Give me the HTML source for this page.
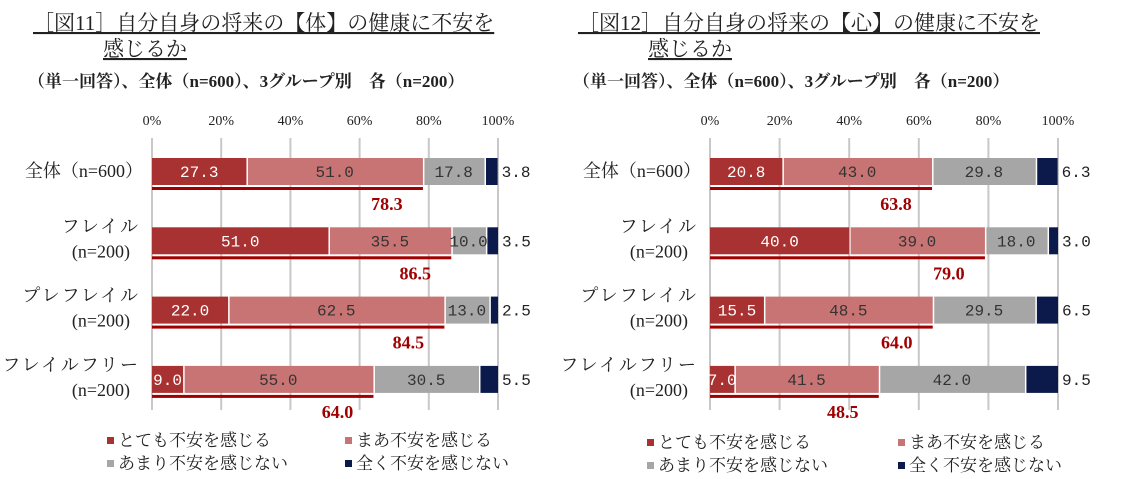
<!DOCTYPE html>
<html><head><meta charset="utf-8">
<style>
body{margin:0;background:#fff;width:1127px;height:479px;overflow:hidden}
svg{display:block}
.t{font-family:"Liberation Serif","Noto Serif CJK JP",serif;fill:#222}
.m{font-family:"Liberation Mono","Noto Sans CJK JP",monospace}
</style></head>
<body>
<svg id="c" width="1127" height="479"></svg>
<script>
const categories=[["全体（n=600）"],["フレイル","(n=200)"],["プレフレイル","(n=200)"],["フレイルフリー","(n=200)"]];
const seriesNames=["とても不安を感じる","まあ不安を感じる","あまり不安を感じない","全く不安を感じない"];
const bodyVeryAnx=[27.3,51.0,22.0,9.0];
const bodySomeAnx=[51.0,35.5,62.5,55.0];
const bodyNotMuch=[17.8,10.0,13.0,30.5];
const bodyNotAtAll=[3.8,3.5,2.5,5.5];
const bodySum=[78.3,86.5,84.5,64.0];
const mindVeryAnx=[20.8,40.0,15.5,7.0];
const mindSomeAnx=[43.0,39.0,48.5,41.5];
const mindNotMuch=[29.8,18.0,29.5,42.0];
const mindNotAtAll=[6.3,3.0,6.5,9.5];
const mindSum=[63.8,79.0,64.0,48.5];
const ticks=[0,20,40,60,80,100];
const colors=["#a83232","#c97474","#a6a6a6","#0b1a4a"];
const NS="http://www.w3.org/2000/svg";
const svg=document.getElementById('c');
function mk(tag,attrs,parent,text){const e=document.createElementNS(NS,tag);for(const k in attrs)e.setAttribute(k,attrs[k]);if(text!==undefined)e.textContent=text;(parent||svg).appendChild(e);return e;}
function chart(cfg){
  const g=mk('g',{});
  
  
  const x=v=>cfg.x0+(cfg.x1-cfg.x0)*v/100;
  const rowY=i=>158+i*69.3;
  const H=27;
  let t=mk('text',{x:cfg.tx,y:30,class:'t','font-size':21,'text-decoration':'underline'},g,cfg.title1);
  
  t=mk('text',{x:cfg.tx+70,y:56,class:'t','font-size':21,'text-decoration':'underline'},g,'感じるか');
  
  t=mk('text',{x:cfg.tx-5,y:87,class:'t','font-size':17,'font-weight':'bold'},g,'（単一回答）、全体（n=600）、3グループ別　各（n=200）');
  
  ticks.forEach(v=>{
    const l=mk('line',{x1:x(v),x2:x(v),y1:138,y2:410,stroke:'#c8c8c8','stroke-width':2},g);
    
    const tt=mk('text',{x:x(v),y:125,'text-anchor':'middle',class:'t','font-size':14},g,v+'%');
    
  });
  categories.forEach((c,i)=>{
    const y=rowY(i);
    if(c.length===1){
      const ct=mk('text',{x:cfg.x0-9,y:y+19,'text-anchor':'end',class:'t','font-size':18},g,c[0]);
      
    }else{
      const ct=mk('text',{x:cfg.x0-12,y:y+5,'text-anchor':'end',class:'t','font-size':18,'letter-spacing':'2'},g,c[0]);
      
      const ct2=mk('text',{x:cfg.x0-22,y:y+30,'text-anchor':'end',class:'t','font-size':18},g,c[1]);
      
    }
    let acc=0;
    cfg.series.forEach((s,k)=>{
      const v=s[i];
      const r=mk('rect',{x:x(acc)+(k?1.5:0),y:y,width:Math.max(0,x(acc+v)-x(acc)-(k?1.5:0)),height:H,fill:colors[k]},g);
      
      let lx=(x(acc)+x(acc+v))/2,anchor='middle',fill=k===0?'#fff':'#333';
      if(k===3){lx=x(acc+v)+4;anchor='start';fill='#222';}
      const vt=mk('text',{x:lx,y:y+19,'text-anchor':anchor,class:'m','font-size':16,style:'fill:'+fill},g,v.toFixed(1));
      
      acc+=v;
    });
    const sm=cfg.sum[i];
    const ul=mk('rect',{x:x(0),y:y+29,width:x(sm)-x(0),height:3,fill:'#a00000'},g);
    
    const st=mk('text',{x:x(sm)-36,y:y+52,'text-anchor':'middle',class:'t','font-size':18,'font-weight':'bold',style:'fill:#a00000'},g,sm.toFixed(1));
    
  });
  const lp=[[cfg.lx1,cfg.ly],[cfg.lx2,cfg.ly],[cfg.lx1,cfg.ly+23],[cfg.lx2,cfg.ly+23]];
  seriesNames.forEach((n,k)=>{
    const lg=mk('g',{},g);
    
    mk('rect',{x:lp[k][0],y:lp[k][1]-9,width:7,height:7,fill:colors[k]},lg);
    mk('text',{x:lp[k][0]+11,y:lp[k][1],class:'t','font-size':17,'font-family':'"Noto Sans CJK JP",sans-serif'},lg,n);
  });
}
chart({name:'body-chart',x0:152,x1:498,tx:33,title1:'［図11］自分自身の将来の【体】の健康に不安を',series:[bodyVeryAnx,bodySomeAnx,bodyNotMuch,bodyNotAtAll],sum:bodySum,lx1:107,lx2:345,ly:446});
chart({name:'mind-chart',x0:710,x1:1058,tx:578,title1:'［図12］自分自身の将来の【心】の健康に不安を',series:[mindVeryAnx,mindSomeAnx,mindNotMuch,mindNotAtAll],sum:mindSum,lx1:647,lx2:898,ly:448});
</script>
</body></html>
